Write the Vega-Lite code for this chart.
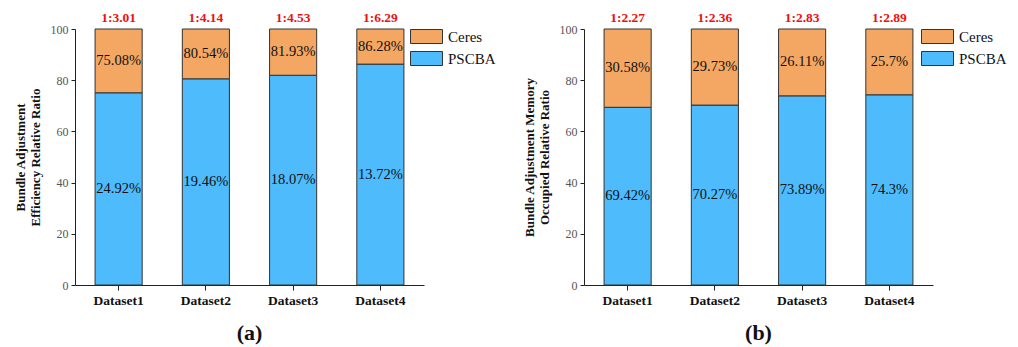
{
  "$schema": "https://vega.github.io/schema/vega-lite/v6.json",
  "background": "white",
  "padding": {"left": 14, "top": 11, "right": 5, "bottom": 2},
  "spacing": 27,
  "config": {
    "view": {"stroke": null},
    "axis": {"domainColor": "#222", "tickColor": "#222", "grid": false},
    "title": {"orient": "bottom", "anchor": "middle", "font": "Liberation Serif", "fontSize": 22, "fontWeight": "bold", "color": "#111", "offset": 16}
  },
  "datasets": {
    "bars": [
      {"panel": "a", "dataset": "Dataset1", "series": "PSCBA", "value": 75.08, "label": "24.92%", "ratio": "1:3.01"},
      {"panel": "a", "dataset": "Dataset1", "series": "Ceres", "value": 24.92, "label": "75.08%", "ratio": "1:3.01"},
      {"panel": "a", "dataset": "Dataset2", "series": "PSCBA", "value": 80.54, "label": "19.46%", "ratio": "1:4.14"},
      {"panel": "a", "dataset": "Dataset2", "series": "Ceres", "value": 19.46, "label": "80.54%", "ratio": "1:4.14"},
      {"panel": "a", "dataset": "Dataset3", "series": "PSCBA", "value": 81.93, "label": "18.07%", "ratio": "1:4.53"},
      {"panel": "a", "dataset": "Dataset3", "series": "Ceres", "value": 18.07, "label": "81.93%", "ratio": "1:4.53"},
      {"panel": "a", "dataset": "Dataset4", "series": "PSCBA", "value": 86.28, "label": "13.72%", "ratio": "1:6.29"},
      {"panel": "a", "dataset": "Dataset4", "series": "Ceres", "value": 13.72, "label": "86.28%", "ratio": "1:6.29"},
      {"panel": "b", "dataset": "Dataset1", "series": "PSCBA", "value": 69.42, "label": "69.42%", "ratio": "1:2.27"},
      {"panel": "b", "dataset": "Dataset1", "series": "Ceres", "value": 30.58, "label": "30.58%", "ratio": "1:2.27"},
      {"panel": "b", "dataset": "Dataset2", "series": "PSCBA", "value": 70.27, "label": "70.27%", "ratio": "1:2.36"},
      {"panel": "b", "dataset": "Dataset2", "series": "Ceres", "value": 29.73, "label": "29.73%", "ratio": "1:2.36"},
      {"panel": "b", "dataset": "Dataset3", "series": "PSCBA", "value": 73.89, "label": "73.89%", "ratio": "1:2.83"},
      {"panel": "b", "dataset": "Dataset3", "series": "Ceres", "value": 26.11, "label": "26.11%", "ratio": "1:2.83"},
      {"panel": "b", "dataset": "Dataset4", "series": "PSCBA", "value": 74.3, "label": "74.3%", "ratio": "1:2.89"},
      {"panel": "b", "dataset": "Dataset4", "series": "Ceres", "value": 25.7, "label": "25.7%", "ratio": "1:2.89"}
    ]
  },
  "hconcat": [
    {
      "title": "(a)",
      "width": 349,
      "height": 256,
      "data": {"name": "bars"},
      "transform": [{"filter": "datum.panel === 'a'"}],
      "encoding": {
        "x": {"field": "dataset", "type": "nominal", "sort": null,
          "scale": {"paddingInner": 0.46, "paddingOuter": 0.23},
          "axis": {"title": null, "labelAngle": 0, "labelFont": "Liberation Serif", "labelFontWeight": "bold", "labelFontSize": 13.5, "labelColor": "#111", "tickSize": 5, "labelPadding": 3}}
      },
      "layer": [
        {
          "mark": {"type": "bar", "stroke": "#333", "strokeWidth": 1},
          "encoding": {
            "y": {"field": "value", "type": "quantitative", "stack": "zero",
              "scale": {"domain": [0, 100], "nice": false},
              "axis": {"title": ["Bundle Adjustment", "Efficiency Relative Ratio"], "titleFont": "Liberation Serif", "titleFontWeight": "bold", "titleFontSize": 13, "titleColor": "#111", "titlePadding": 8, "titleLineHeight": 15,
                "values": [0, 10, 20, 30, 40, 50, 60, 70, 80, 90, 100], "labelExpr": "datum.value % 20 === 0 ? datum.label : ''",
                "labelFont": "Liberation Serif", "labelFontSize": 12, "labelColor": "#555", "tickSize": 4, "labelPadding": 3}},
            "color": {"field": "series", "type": "nominal",
              "scale": {"domain": ["Ceres", "PSCBA"], "range": ["#F4A663", "#4DBBFC"]},
              "legend": {"title": null, "orient": "none", "legendX": 335, "legendY": 0,
                "symbolType": "M-1,-1H3.5714V1H-1Z", "symbolSize": 196, "symbolStrokeColor": "#333", "symbolStrokeWidth": 1, "symbolOpacity": 1,
                "labelFont": "Liberation Serif", "labelFontSize": 15, "labelColor": "#111", "labelOffset": 23, "rowPadding": 3}},
            "order": {"field": "series", "sort": "descending"}
          }
        },
        {
          "mark": {"type": "text", "font": "Liberation Serif", "fontSize": 14.5, "color": "#111"},
          "encoding": {
            "y": {"field": "value", "type": "quantitative", "stack": "zero", "bandPosition": 0.5},
            "text": {"field": "label"},
            "detail": {"field": "series"},
            "order": {"field": "series", "sort": "descending"}
          }
        },
        {
          "transform": [{"filter": "datum.series === 'Ceres'"}],
          "mark": {"type": "text", "font": "Liberation Serif", "fontSize": 13.5, "fontWeight": "bold", "color": "#F01010", "dy": -11},
          "encoding": {
            "y": {"datum": 100, "type": "quantitative"},
            "text": {"field": "ratio"}
          }
        }
      ]
    },
    {
      "title": "(b)",
      "width": 349,
      "height": 256,
      "data": {"name": "bars"},
      "transform": [{"filter": "datum.panel === 'b'"}],
      "encoding": {
        "x": {"field": "dataset", "type": "nominal", "sort": null,
          "scale": {"paddingInner": 0.46, "paddingOuter": 0.23},
          "axis": {"title": null, "labelAngle": 0, "labelFont": "Liberation Serif", "labelFontWeight": "bold", "labelFontSize": 13.5, "labelColor": "#111", "tickSize": 5, "labelPadding": 3}}
      },
      "layer": [
        {
          "mark": {"type": "bar", "stroke": "#333", "strokeWidth": 1},
          "encoding": {
            "y": {"field": "value", "type": "quantitative", "stack": "zero",
              "scale": {"domain": [0, 100], "nice": false},
              "axis": {"title": ["Bundle Adjustment Memory", "Occupied Relative Ratio"], "titleFont": "Liberation Serif", "titleFontWeight": "bold", "titleFontSize": 13, "titleColor": "#111", "titlePadding": 8, "titleLineHeight": 15,
                "values": [0, 10, 20, 30, 40, 50, 60, 70, 80, 90, 100], "labelExpr": "datum.value % 20 === 0 ? datum.label : ''",
                "labelFont": "Liberation Serif", "labelFontSize": 12, "labelColor": "#555", "tickSize": 4, "labelPadding": 3}},
            "color": {"field": "series", "type": "nominal",
              "scale": {"domain": ["Ceres", "PSCBA"], "range": ["#F4A663", "#4DBBFC"]},
              "legend": {"title": null, "orient": "none", "legendX": 337, "legendY": 0,
                "symbolType": "M-1,-1H3.5714V1H-1Z", "symbolSize": 196, "symbolStrokeColor": "#333", "symbolStrokeWidth": 1, "symbolOpacity": 1,
                "labelFont": "Liberation Serif", "labelFontSize": 15, "labelColor": "#111", "labelOffset": 23, "rowPadding": 3}},
            "order": {"field": "series", "sort": "descending"}
          }
        },
        {
          "mark": {"type": "text", "font": "Liberation Serif", "fontSize": 14.5, "color": "#111"},
          "encoding": {
            "y": {"field": "value", "type": "quantitative", "stack": "zero", "bandPosition": 0.5},
            "text": {"field": "label"},
            "detail": {"field": "series"},
            "order": {"field": "series", "sort": "descending"}
          }
        },
        {
          "transform": [{"filter": "datum.series === 'Ceres'"}],
          "mark": {"type": "text", "font": "Liberation Serif", "fontSize": 13.5, "fontWeight": "bold", "color": "#F01010", "dy": -11},
          "encoding": {
            "y": {"datum": 100, "type": "quantitative"},
            "text": {"field": "ratio"}
          }
        }
      ]
    }
  ],
  "resolve": {"scale": {"color": "independent"}}
}
